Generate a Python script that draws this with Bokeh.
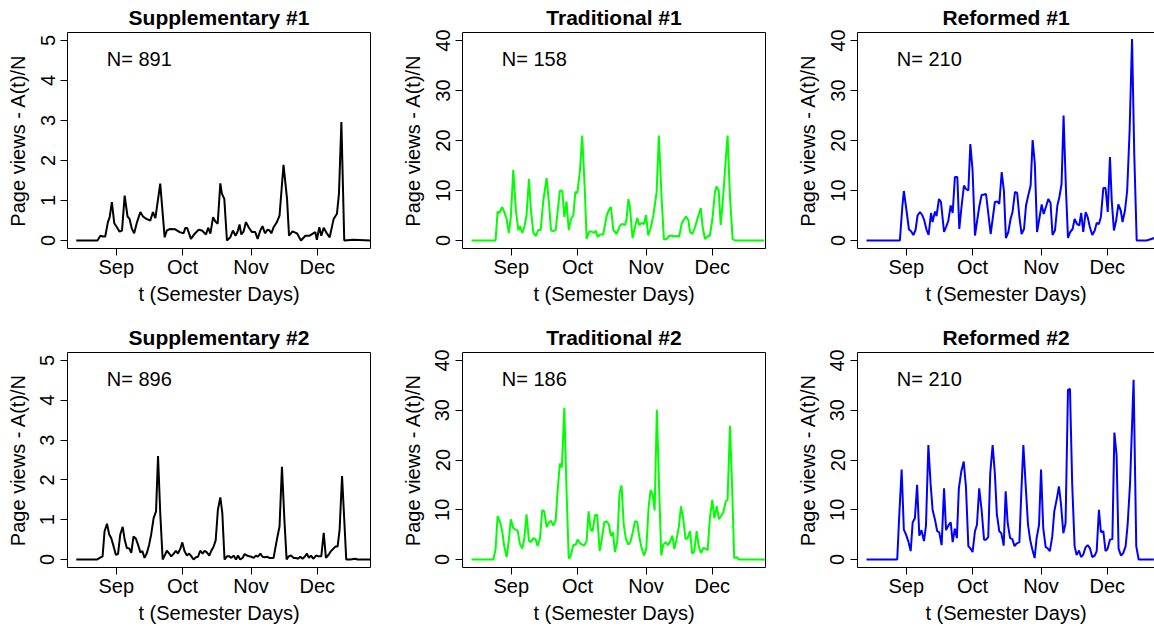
from bokeh.plotting import figure
from bokeh.layouts import column, row
from bokeh.models import FixedTicker, Range1d, LinearAxis
from bokeh.core.properties import value
from bokeh.embed import file_html
from bokeh.resources import INLINE

FONT = "Liberation Sans"

# x axis: days counted from 1 September
month_labels = ["Sep", "Oct", "Nov", "Dec"]
month_days = [0, 30, 61, 91]

titles = ["Supplementary #1", "Traditional #1", "Reformed #1",
          "Supplementary #2", "Traditional #2", "Reformed #2"]
n_students = [891, 158, 210, 896, 186, 210]
colors = ["black", "#00ff00", "#0000ff", "black", "#00ff00", "#0000ff"]

supp1_day = [-18.1, -8.5, -7.2, -6.0, -5.0, -3.8, -3.0, -2.0, -0.9, 0.3, 1.5, 2.6, 3.8, 5.1, 6.0, 7.1, 8.1, 9.4,
             10.9, 12.1, 13.6, 15.4, 16.6, 17.7, 19.9, 21.9, 22.9, 24.4, 26.7, 28.7, 30.5, 31.2, 32.1, 33.8, 35.5,
             37.3, 38.8, 40.6, 41.6, 42.6, 43.8, 44.8, 45.9, 47.1, 47.8, 48.9, 50.1, 51.6, 52.8, 54.0, 54.9, 55.8,
             56.6, 57.6, 58.7, 59.9, 61.4, 62.9, 64.0, 65.2, 66.2, 67.3, 68.5, 69.4, 70.2, 71.2, 72.7, 73.9, 75.7,
             77.3, 78.2, 79.8, 81.8, 83.6, 85.6, 87.5, 90.1, 90.8, 91.9, 92.8, 93.9, 95.4, 96.6, 98.4, 99.9, 100.8,
             101.9, 103.2, 107.4, 115.0]
supp1_val = [0, 0, 0.12, 0.1, 0.1, 0.46, 0.58, 0.96, 0.43, 0.33, 0.22, 0.25, 1.12, 0.6, 0.54, 0.29, 0.18, 0.46,
             0.71, 0.6, 0.54, 0.5, 0.71, 0.56, 1.42, 0.08, 0.25, 0.29, 0.28, 0.21, 0.18, 0.31, 0.31, 0.04, 0.17,
             0.27, 0.25, 0.15, 0.32, 0.17, 0.58, 0.48, 0.42, 1.43, 1.17, 1.04, 0, 0.08, 0.25, 0.12, 0.22, 0.4,
             0.15, 0.22, 0.46, 0.33, 0.21, 0.21, 0.04, 0.25, 0.36, 0.18, 0.27, 0.25, 0.18, 0.33, 0.46, 0.62, 1.89,
             1.04, 0.12, 0.23, 0.18, 0, 0.12, 0.12, 0.21, 0.02, 0.33, 0.12, 0.32, 0.17, 0.08, 0.54, 0.67, 1.17,
             2.96, 0, 0.02, 0]

trad1_day = [-18.0, -7.1, -6.2, -5.4, -4.1, -3.2, -2.1, -1.1, -0.2, 0.9, 2.1, 3.2, 3.9, 5.0, 5.9, 6.9, 8.0, 8.9,
             10.0, 11.2, 12.2, 13.3, 14.5, 16.0, 17.1, 18.0, 19.0, 20.1, 22.0, 23.1, 24.0, 25.0, 26.0, 27.0, 28.1,
             29.0, 29.9, 31.1, 32.1, 33.3, 34.1, 35.3, 36.4, 37.4, 38.2, 39.1, 40.1, 41.6, 43.2, 44.4, 45.1, 46.2,
             47.7, 49.2, 50.2, 51.5, 52.2, 53.0, 53.7, 54.9, 56.0, 57.0, 57.9, 59.0, 60.1, 61.0, 62.0, 63.2, 64.3,
             65.8, 66.8, 68.1, 69.1, 70.3, 71.4, 72.6, 73.6, 74.8, 76.0, 77.1, 77.9, 79.1, 80.2, 80.9, 82.0, 83.2,
             84.7, 85.8, 86.6, 87.7, 88.8, 89.9, 91.1, 92.2, 92.9, 93.9, 94.8, 96.0, 97.0, 97.9, 99.0, 100.2, 101.3,
             114.5]
trad1_val = [0, 0, 5.8, 5.5, 6.7, 5.7, 4.3, 1.5, 4.7, 14.1, 6.0, 2.0, 2.9, 1.5, 2.7, 5.0, 12.3, 6.0,
             1.5, 0.9, 2.1, 2.1, 8.0, 12.5, 7.3, 2.0, 1.9, 2.1, 10.0, 9.9, 4.7, 7.8, 2.1, 4.3, 5.0,
             9.7, 9.5, 14.0, 21.0, 10.0, 0.3, 1.8, 1.8, 1.5, 2.0, 0.7, 1.2, 1.2, 5.0, 6.3, 6.7, 2.1,
             1.3, 3.0, 3.3, 3.1, 4.3, 8.3, 6.7, 0.5, 2.7, 4.5, 3.1, 3.5, 3.3, 5.1, 1.0, 2.7, 5.0,
             9.7, 21.0, 8.0, 0.2, 0.3, 0.9, 1.0, 0.8, 0.9, 0.8, 3.3, 4.0, 4.8, 4.0, 1.7, 1.3, 2.7,
             5.0, 6.5, 2.7, 0.3, 0.8, 1.0, 4.5, 9.7, 10.8, 10.0, 3.1, 9.3, 15.7, 21.0, 8.7, 0.3, 0,
             0]

ref1_day = [-18.0, -2.9, -1.8, -1.1, 0.2, 1.2, 2.1, 3.2, 4.2, 5.1, 6.2, 7.2, 8.1, 9.2, 10.1, 11.2, 11.9, 13.0,
            13.7, 14.8, 15.7, 17.1, 18.0, 19.0, 20.1, 21.0, 22.0, 23.1, 24.0, 25.0, 26.1, 27.0, 28.1, 29.0, 30.0,
            31.1, 32.1, 33.0, 34.1, 35.2, 36.1, 37.1, 38.2, 39.1, 40.1, 41.2, 42.1, 43.2, 44.2, 45.1, 46.2, 47.2,
            48.1, 49.2, 50.2, 51.2, 52.2, 53.3, 54.2, 55.2, 56.3, 57.2, 58.2, 59.2, 60.2, 61.3, 62.2, 63.2, 64.3,
            65.3, 66.2, 67.3, 68.4, 69.3, 70.3, 71.2, 72.3, 73.2, 74.2, 75.3, 76.2, 77.3, 78.3, 79.2, 80.1, 81.2,
            82.1, 83.1, 84.2, 85.3, 86.2, 87.2, 88.1, 89.2, 90.2, 91.2, 92.2, 93.0, 94.0, 95.0, 96.0, 97.1, 97.9,
            99.0, 100.0, 101.1, 102.2, 103.2, 104.3, 108.8, 113.0]
ref1_val = [0, 0, 6.7, 9.9, 5.7, 2.2, 1.9, 1.1, 2.1, 5.0, 5.7, 5.1, 4.1, 2.1, 1.1, 5.5, 3.7, 5.8,
            4.9, 8.3, 7.7, 1.7, 2.7, 3.9, 7.0, 5.5, 12.7, 12.7, 2.3, 6.7, 11.0, 10.3, 10.0, 19.3, 14.1,
            1.0, 4.0, 6.7, 9.1, 9.2, 9.3, 5.5, 1.3, 4.3, 7.7, 7.8, 7.3, 13.7, 9.9, 0.5, 1.7, 4.3,
            5.7, 9.7, 9.5, 4.7, 1.3, 2.3, 7.0, 9.0, 11.0, 20.1, 15.3, 1.7, 4.3, 7.2, 5.3, 6.7, 8.3,
            7.5, 1.1, 2.0, 7.0, 8.7, 11.3, 25.0, 10.0, 0.5, 1.7, 2.3, 4.3, 3.3, 3.0, 5.5, 1.7, 5.7,
            4.7, 2.7, 1.1, 2.0, 3.5, 3.3, 4.7, 10.5, 10.5, 5.7, 16.7, 8.0, 2.0, 4.0, 7.2, 6.0, 3.7,
            6.0, 10.0, 22.0, 40.3, 17.3, 0, 0, 0.6]

supp2_day = [-18.1, -8.8, -7.5, -6.2, -5.3, -4.2, -3.2, -2.3, -1.2, -0.2, 0.8, 1.8, 2.9, 3.8, 4.8, 5.9, 6.8, 7.8,
             8.9, 9.8, 10.9, 11.8, 12.8, 13.9, 14.9, 15.8, 16.9, 18.0, 18.9, 19.9, 21.0, 21.9, 22.9, 24.0, 24.9,
             26.0, 27.0, 27.9, 29.0, 29.9, 30.9, 32.0, 33.0, 34.0, 35.0, 36.1, 37.0, 38.0, 39.1, 40.0, 41.0, 42.1,
             43.0, 44.1, 45.0, 46.0, 47.1, 48.0, 49.0, 50.1, 51.2, 52.1, 53.1, 54.2, 55.1, 56.1, 57.2, 58.1, 59.2,
             60.2, 61.1, 62.2, 63.2, 64.1, 65.2, 66.2, 67.1, 68.2, 69.3, 70.2, 71.2, 72.7, 73.9, 75.0, 76.1, 77.1,
             78.0, 79.1, 80.3, 81.3, 82.2, 83.3, 84.3, 85.3, 86.3, 87.2, 88.1, 89.3, 90.4, 91.6, 92.8, 93.9, 94.9,
             96.1, 97.2, 98.4, 99.3, 100.2, 101.1, 102.2, 103.2, 104.1, 105.9, 108.2, 109.2, 115.0]
supp2_val = [0, 0, 0.04, 0.08, 0.71, 0.9, 0.63, 0.54, 0.33, 0.12, 0.14, 0.63, 0.82, 0.5, 0.29, 0.28, 0.17, 0.58,
             0.52, 0.38, 0.18, 0.21, 0.04, 0.17, 0.38, 0.63, 1.04, 1.21, 2.6, 1.17, 0, 0.1, 0.22, 0.15, 0.08,
             0.15, 0.22, 0.15, 0.27, 0.43, 0.21, 0.1, 0.15, 0.08, 0, 0.06, 0.07, 0.22, 0.15, 0.22, 0.18, 0.1,
             0.22, 0.33, 0.48, 1.25, 1.56, 1.17, 0, 0.08, 0.08, 0.04, 0.1, 0, 0.1, 0, 0.04, 0.14, 0.1,
             0.08, 0.07, 0.04, 0.1, 0.07, 0.15, 0.07, 0.06, 0.07, 0.04, 0.04, 0.04, 0.5, 0.83, 2.33, 1.0, 0,
             0.08, 0.1, 0.04, 0.04, 0.02, 0.07, 0.02, 0.07, 0.15, 0.04, 0.1, 0.02, 0.1, 0.08, 0.08, 0.67, 0.04,
             0.12, 0.21, 0.28, 0.33, 0.33, 0.75, 2.1, 1.0, 0, 0, 0.02, 0, 0]

trad2_day = [-18.0, -8.1, -7.1, -6.2, -5.1, -4.1, -3.2, -2.1, -1.1, -0.2, 0.9, 2.0, 2.9, 3.9, 5.0, 5.9, 6.9, 8.0,
             8.9, 10.0, 11.0, 11.9, 13.0, 14.0, 14.9, 16.0, 17.1, 18.0, 19.0, 20.1, 21.0, 22.0, 22.9, 24.0, 25.0,
             26.0, 26.9, 28.1, 29.1, 30.0, 31.1, 32.1, 33.0, 34.1, 35.0, 35.9, 36.8, 37.9, 38.9, 40.0, 41.0, 42.1,
             43.2, 44.2, 45.1, 46.0, 46.9, 48.0, 49.0, 49.9, 50.9, 51.9, 53.0, 53.9, 55.0, 56.0, 57.0, 57.9, 59.0,
             60.1, 61.1, 62.2, 63.1, 64.0, 64.9, 65.9, 67.0, 67.9, 68.8, 69.8, 70.9, 71.8, 72.9, 73.8, 74.8, 75.9,
             76.8, 77.9, 78.9, 79.8, 80.9, 81.9, 82.8, 83.9, 84.8, 85.9, 86.9, 87.9, 88.9, 89.9, 91.0, 91.9, 93.0,
             94.0, 94.9, 96.0, 97.1, 97.9, 99.0, 100.0, 100.9, 101.9, 103.1, 114.8]
trad2_val = [0, 0, 2.1, 8.7, 7.5, 5.7, 2.7, 0.5, 3.9, 8.1, 6.3, 6.0, 5.8, 3.1, 2.2, 4.3, 9.1, 3.8,
             3.5, 4.3, 4.1, 2.7, 4.3, 9.9, 9.7, 6.5, 7.5, 7.8, 6.8, 7.9, 14.0, 19.3, 18.5, 30.5, 14.0,
             0.2, 0.7, 3.0, 2.9, 4.0, 3.3, 3.0, 2.8, 3.7, 9.7, 6.1, 5.7, 8.9, 9.0, 1.7, 4.1, 7.5,
             7.7, 7.0, 4.7, 5.5, 1.5, 3.7, 13.3, 14.9, 7.0, 4.1, 3.0, 3.5, 5.5, 7.7, 7.5, 4.7, 2.3,
             0.8, 2.1, 10.7, 14.0, 13.1, 9.9, 30.1, 13.3, 0.8, 3.0, 3.5, 2.9, 3.5, 4.8, 2.1, 4.0, 6.7,
             10.7, 8.0, 4.1, 4.3, 5.7, 1.2, 1.5, 5.7, 2.8, 1.3, 2.3, 2.2, 1.9, 8.3, 12.0, 8.3, 10.7,
             8.1, 8.7, 9.5, 11.7, 12.0, 26.9, 14.0, 0.3, 0.5, 0, 0]

ref2_day = [-18.0, -4.1, -3.2, -2.1, -1.1, -0.2, 0.9, 2.0, 2.9, 3.9, 4.9, 5.9, 6.9, 8.0, 8.9, 10.0, 11.0, 11.9,
            13.0, 14.0, 14.9, 16.0, 17.1, 18.0, 19.0, 20.1, 21.0, 22.0, 22.9, 23.8, 24.9, 26.0, 27.0, 28.1, 29.1,
            30.0, 31.1, 32.0, 33.0, 34.1, 35.2, 36.1, 37.1, 38.0, 39.1, 40.1, 41.0, 42.1, 43.0, 44.1, 45.0, 45.9,
            47.0, 48.0, 49.0, 49.9, 51.2, 52.1, 53.0, 54.0, 55.1, 56.1, 57.0, 58.1, 59.0, 60.1, 61.0, 62.0, 63.1,
            63.9, 65.0, 66.1, 67.0, 68.1, 69.1, 70.0, 71.1, 72.1, 73.2, 74.1, 75.1, 76.2, 77.1, 78.2, 79.1, 80.1,
            81.2, 82.1, 83.1, 84.2, 85.3, 86.2, 87.2, 88.1, 89.2, 90.2, 91.1, 92.2, 93.3, 94.2, 95.2, 96.1, 97.2,
            98.2, 99.3, 100.2, 101.3, 102.9, 104.1, 105.2, 112.1]
ref2_val = [0, 0, 8.7, 18.1, 6.0, 5.1, 3.7, 1.7, 7.5, 8.3, 15.0, 4.8, 5.9, 3.7, 6.7, 23.0, 15.3, 10.0,
            8.0, 5.7, 5.5, 2.9, 14.3, 5.9, 6.8, 7.5, 3.5, 6.2, 4.3, 14.3, 17.7, 19.7, 14.7, 2.7, 2.2,
            1.5, 5.7, 7.0, 14.3, 10.0, 4.0, 4.0, 4.5, 17.3, 23.0, 17.3, 9.1, 5.7, 5.3, 2.8, 13.7, 7.3,
            4.3, 4.1, 2.7, 3.2, 3.5, 13.7, 23.0, 15.3, 7.0, 3.9, 2.1, 0.3, 4.3, 7.0, 18.1, 6.3, 2.5,
            2.3, 1.7, 4.7, 9.7, 12.1, 14.7, 11.3, 5.3, 7.3, 34.1, 34.3, 15.3, 2.7, 0.9, 1.8, 0.5, 1.0,
            2.5, 2.9, 2.3, 0.5, 0.8, 1.7, 10.0, 5.5, 5.7, 1.7, 2.1, 4.0, 4.1, 25.5, 21.0, 2.2, 0.8,
            1.3, 2.7, 7.0, 15.3, 36.1, 2.7, 0, 0]

series_days = [supp1_day, trad1_day, ref1_day, supp2_day, trad2_day, ref2_day]
series_vals = [supp1_val, trad1_val, ref1_val, supp2_val, trad2_val, ref2_val]
y_max = [5, 40, 40, 5, 40, 40]
y_ticks = [[0, 1, 2, 3, 4, 5], [0, 10, 20, 30, 40], [0, 10, 20, 30, 40],
           [0, 1, 2, 3, 4, 5], [0, 10, 20, 30, 40], [0, 10, 20, 30, 40]]

X_START, X_END = -22.08, 115.08
PX_PER_DAY = 303 / (X_END - X_START)
FS = "20px"

LEFT = 67
RIGHT = 25
TOP = 32


def style_axis(ax, line):
    ax.major_tick_out = 7
    ax.major_tick_in = 0
    ax.minor_tick_line_color = None
    ax.major_tick_line_color = "black"
    ax.axis_line_color = "black" if line else None
    ax.major_label_text_font = FONT
    ax.major_label_text_font_size = FS
    ax.major_label_text_color = "black"
    ax.axis_label_text_font = FONT
    ax.axis_label_text_font_size = FS
    ax.axis_label_text_font_style = "normal"
    ax.axis_label_text_color = "black"


def make_panel(i):
    col = i % 3
    top_row = i < 3
    last = col == 2
    width = 364 if last else 395
    height = 320 if top_row else 306
    right = 0 if last else RIGHT
    bottom = 72 if top_row else 58
    frame_w = width - LEFT - right
    x_end = X_START + frame_w / PX_PER_DAY
    ym = y_max[i]
    p = figure(width=width, height=height, output_backend="svg", toolbar_location=None,
               x_range=Range1d(X_START, x_end), y_range=Range1d(-0.04 * ym, 1.04 * ym),
               min_border_left=LEFT, min_border_right=right,
               min_border_top=TOP, min_border_bottom=bottom,
               background_fill_color="white", border_fill_color="white")
    p.grid.visible = False
    p.line(series_days[i], series_vals[i], line_color=colors[i], line_width=2)
    p.text(x=[10.4], y=[0.906 * ym], text=[f"N= {n_students[i]}"],
           text_font=value(FONT), text_font_size=FS, text_color="black",
           text_align="center", text_baseline="middle")

    p.title.text = titles[i]
    p.title.text_font = FONT
    p.title.text_font_size = "21px"
    p.title.text_font_style = "bold"
    p.title.text_color = "black"
    p.title.align = "center"
    p.title.standoff = 7

    xa = p.xaxis[0]
    ya = p.yaxis[0]
    style_axis(xa, last)
    style_axis(ya, last)
    xa.ticker = FixedTicker(ticks=month_days)
    xa.major_label_overrides = {d: m for d, m in zip(month_days, month_labels)}
    xa.major_label_standoff = 0
    xa.axis_label = "t (Semester Days)"
    xa.axis_label_standoff = 2
    ya.ticker = FixedTicker(ticks=y_ticks[i])
    ya.major_label_orientation = "parallel"
    ya.major_label_standoff = 6
    ya.axis_label = "Page views - A(t)/N"
    ya.axis_label_standoff = 9

    if last:
        p.outline_line_color = None
        top = LinearAxis(ticker=FixedTicker(ticks=[]), axis_line_color="black",
                         major_tick_out=0, major_tick_in=0, minor_tick_out=0, minor_tick_in=0,
                         major_label_standoff=0)
        p.add_layout(top, "above")
    else:
        p.outline_line_color = "black"
        p.outline_line_alpha = 1.0
        p.outline_line_width = 1
    return p


panels = [make_panel(i) for i in range(6)]
layout = column(row(*panels[:3]), row(*panels[3:]))

open("out.html", "w").write(file_html(layout, INLINE))
